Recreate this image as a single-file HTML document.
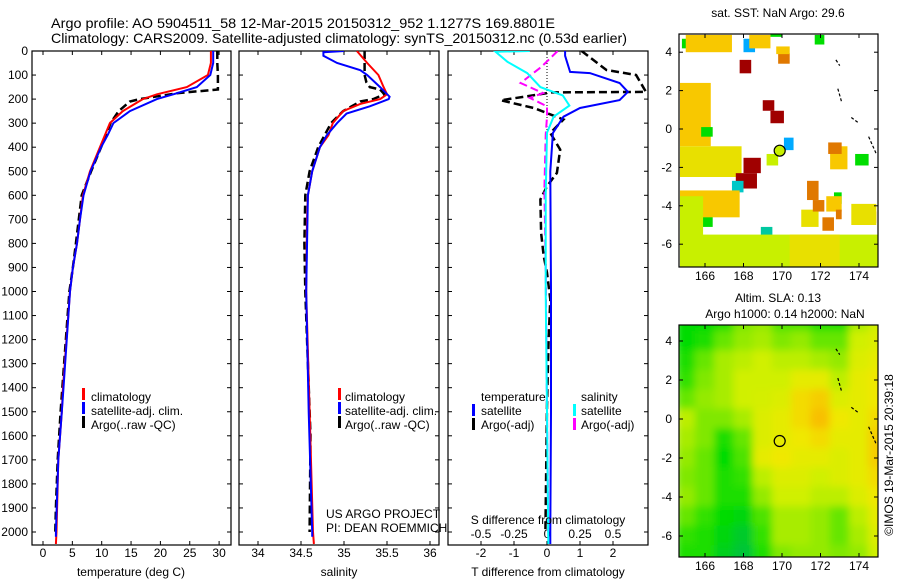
<!DOCTYPE html>
<html><head><meta charset="utf-8"><style>
html,body{margin:0;padding:0;background:#fff;}
svg{display:block;font-family:"Liberation Sans",Arial,sans-serif;}
</style></head><body>
<svg id="fig" width="900" height="580" viewBox="0 0 900 580" xmlns="http://www.w3.org/2000/svg">
<defs>
<clipPath id="c1"><rect x="32" y="51" width="199" height="494"/></clipPath>
<clipPath id="c2"><rect x="239" y="51" width="200" height="494"/></clipPath>
<clipPath id="c3"><rect x="448" y="51" width="200" height="494"/></clipPath>
<clipPath id="cm1"><rect x="679" y="34" width="199" height="233"/></clipPath>
<clipPath id="cm2"><rect x="679" y="325" width="199" height="232"/></clipPath>
<filter id="blur" x="-10%" y="-10%" width="120%" height="120%"><feGaussianBlur stdDeviation="4"/></filter>
</defs>
<text x="51" y="28" font-size="14" textLength="504" lengthAdjust="spacingAndGlyphs">Argo profile: AO 5904511_58 12-Mar-2015 20150312_952 1.1277S 169.8801E</text>
<text x="51" y="43" font-size="14" textLength="576" lengthAdjust="spacingAndGlyphs">Climatology: CARS2009. Satellite-adjusted climatology: synTS_20150312.nc (0.53d earlier)</text>
<g id="layer"></g>
</svg>
<script>
// ---------- data ----------
const depthTicks=[0,100,200,300,400,500,600,700,800,900,1000,1100,1200,1300,1400,1500,1600,1700,1800,1900,2000];
const tempTicks=[0,5,10,15,20,25,30];
const salTicks=[34,34.5,35,35.5,36];
const tdiffTicks=[-2,-1,0,1,2];
const sdiffTicks=[-0.5,-0.25,0,0.25,0.5];
const sdiffTickLabels=["-0.5","-0.25","0","0.25","0.5"];

const climTDepth=[0,50,100,150,180,200,250,300,400,500,600,700,800,900,1000,1400,1500,1700,2000,2050];
const climT=[28.6,28.6,28.1,24.5,19.4,17,13.6,11.4,9.7,8,6.8,6.3,5.8,5.1,4.6,3.4,3.2,2.6,2.3,2.2];
const satTDepth=[0,50,100,150,180,200,250,300,350,400,500,600,700,800,900,1000,1400,1500,1700,2000,2020];
const satT=[29,29,28.5,26.2,22.2,19.4,14.8,12,11,9.9,8.1,6.9,6.3,5.8,5.1,4.6,3.5,3.2,2.6,2.2,2.2];
const argoTDepth=[0,50,100,150,160,175,200,210,250,300,400,500,600,700,800,900,1000,1300,1500,1700,1900,2000];
const argoT=[29.7,29.7,29.8,29.8,29.8,23,16.5,14.8,12.9,11.5,9.9,8.2,6.6,6.1,5.6,5.1,4.5,3.6,3,2.5,2.2,2.1];

const climSDepth=[0,50,100,150,180,200,220,250,300,350,400,500,600,700,1000,1500,2000,2050];
const climS=[35.15,35.27,35.4,35.46,35.5,35.42,35.19,34.99,34.87,34.82,34.72,34.63,34.58,34.57,34.56,34.6,34.64,34.65];
const satSDepth=[0,5,20,50,80,100,150,190,200,230,260,300,350,400,500,600,1000,1500,2000,2020];
const satS=[35.0,34.76,34.76,34.92,35.19,35.27,35.42,35.53,35.52,35.3,35.03,34.92,34.8,34.72,34.63,34.58,34.56,34.59,34.63,34.63];
const argoSDepth=[0,50,100,130,150,160,180,200,210,250,300,400,500,600,800,1000,1300,1600,2000];
const argoS=[35.24,35.24,35.24,35.26,35.3,35.42,35.47,35.34,35.19,34.99,34.85,34.7,34.6,34.55,34.54,34.55,34.58,34.61,34.6];

const satTdDepth=[0,20,87,92,133,170,204,237,273,341,500,1000,1500,2000,2050];
const satTd=[0.55,0.55,0.7,1.3,2.2,2.45,2.2,1.0,0.5,0.18,0.1,0.12,0.12,0.1,0.1];
const argoTdDepth=[0,79,100,170,172,205,237,285,341,410,507,562,617,756,853,922,1033,1200,1475,2000];
const argoTd=[1.05,1.8,2.7,3.0,0.15,-1.4,-0.4,0.5,0.1,0.4,0.3,0.0,-0.2,-0.18,-0.1,0,0.1,0.05,0,-0.05];
const satSdDepth=[0,3,45,92,150,185,227,273,340,600,1000,1500,2050];
const satSd=[-0.13,-0.39,-0.3,-0.15,-0.05,0.12,0.17,0.05,0.0,-0.01,-0.01,0.0,0.01];
const argoSdDepth=[0,65,133,175,195,230,273,350,575,900,1500,2000];
const argoSd=[0.08,-0.04,-0.2,-0.03,-0.13,0,0,-0.01,-0.02,-0.01,0.0,0.01];

// SST patches: lon0,lon1,lat0,lat1 and sst colour class
const sstLon0=[164.7,164.7,164.7,165.8,167.8,169.0,169.4,168.0,167.6,170.1,168.0,167.4,168.9,171.7,164.8,173.8,165.8,172.7,172.1,169.4,169.8,169.7,172.5,171.3,174.3,165.0,168.3,169.2,172.4,164.7,171.0,172.3,173.6,164.7,170.4,164.7,171.6,172.8];
const sstLon1=[166.3,167.9,166.5,166.4,168.4,169.6,170.1,168.9,168.7,170.6,168.6,168.0,169.5,172.2,165.4,174.5,166.4,173.1,172.7,170.0,170.4,170.4,173.4,171.9,174.9,167.4,169.4,169.8,173.1,167.8,171.9,173.1,174.9,175.0,173.0,165.9,172.2,173.1];
const sstLat0=[2.4,-0.9,-1.2,0.1,3.6,1.5,0.95,-1.5,-2.3,-0.45,4.7,-2.7,-5.1,4.9,4.7,-1.3,-4.5,-3.3,-4.6,4.95,3.95,4.3,-0.9,-2.7,-4.3,4.9,4.9,-1.3,-0.7,-3.2,-4.2,-3.5,-3.9,-5.5,-5.5,-3.5,-3.7,-4.2];
const sstLat1=[-0.9,-2.5,-2.4,-0.4,2.9,0.95,0.3,-2.3,-3.1,-1.1,4.0,-3.3,-6.3,4.4,4.2,-1.9,-5.1,-3.9,-5.3,4.8,3.4,3.9,-2.1,-3.7,-4.9,4.0,4.2,-1.9,-1.3,-4.6,-5.1,-4.3,-5.0,-7.2,-7.2,-7.2,-4.3,-4.7];
const sstClass=[4,3,3,5,7,7,7,7,7,8,8,9,10,5,5,5,5,5,6,5,6,4,4,6,6,4,4,2,6,4,3,4,3,2,3,2,6,6];
const sstPalette=["#00c0c0","#60e000","#c8f000","#e8e000","#f8c800","#00dd00","#e07800","#a00000","#00aaff","#00c8c8","#00c8a0"];

// SLA grid: rows lat 5..-7, cols lon 165..175
const slaLats=[5,4,3,2,1,0,-1,-2,-3,-4,-5,-6,-7];
const slaLons=[165,166,167,168,169,170,171,172,173,174,175];
const slaGrid=[
[0.25,0.25,0.3,0.5,0.55,0.4,0.4,0.3,0.3,0.6,0.7],
[0.25,0.3,0.45,0.55,0.6,0.5,0.55,0.45,0.45,0.7,0.75],
[0.3,0.45,0.6,0.65,0.7,0.65,0.65,0.6,0.55,0.75,0.8],
[0.35,0.5,0.6,0.7,0.7,0.7,0.8,0.8,0.65,0.8,0.85],
[0.45,0.55,0.6,0.7,0.72,0.75,0.9,0.95,0.75,0.8,0.85],
[0.65,0.5,0.5,0.6,0.75,0.8,0.9,1.0,0.85,0.8,0.9],
[0.6,0.5,0.3,0.45,0.75,0.8,0.85,0.9,0.8,0.8,0.95],
[0.55,0.45,0.25,0.4,0.8,0.85,0.8,0.8,0.75,0.8,0.95],
[0.5,0.45,0.3,0.35,0.65,0.75,0.75,0.7,0.75,0.8,0.9],
[0.55,0.45,0.3,0.3,0.55,0.7,0.7,0.65,0.65,0.75,0.85],
[0.45,0.35,0.25,0.2,0.4,0.6,0.6,0.55,0.45,0.65,0.8],
[0.35,0.3,0.2,0.1,0.35,0.6,0.6,0.55,0.45,0.6,0.75],
[0.3,0.3,0.15,0.05,0.3,0.5,0.55,0.55,0.5,0.55,0.7]];
const mapLonTicks=[166,168,170,172,174];
const mapLatTicks=[4,2,0,-2,-4,-6];
const profileLon=[169.88], profileLat=[-1.13];

// ---------- helpers ----------
const NS="http://www.w3.org/2000/svg";
const layer=document.getElementById('layer');
function mk(tag,attrs,parent){const e=document.createElementNS(NS,tag);for(const k in attrs)e.setAttribute(k,attrs[k]);(parent||layer).appendChild(e);return e;}
const yD=d=>51+d*0.2405;
const xT=v=>43+v*5.87;
const xS=v=>258+(v-34)*86;
const xTd=v=>547+v*33;
const xSd=v=>547+v*132;
const mX=lon=>705+(lon-166)*19.25;
const m1Y=lat=>129-lat*19.2;
const m2Y=lat=>419-lat*19.5;

function frame(x,y,w,h,name){
  const r=mk('rect',{x:x,y:y,width:w,height:h,fill:'none',stroke:'#000','stroke-width':1.2});
  
  
}
function line(depths,vals,xf,color,dash,clip,name,w){
  let d='';depths.forEach((dp,i)=>{d+=(i?'L':'M')+xf(vals[i]).toFixed(1)+','+yD(dp).toFixed(1);});
  const p=mk('path',{d:d,fill:'none',stroke:color,'stroke-width':w||2,'stroke-dasharray':dash||'none','clip-path':'url(#'+clip+')'});
  
  
}
function txt(x,y,s,size,anchor,name,extra){
  const t=mk('text',Object.assign({x:x,y:y,'font-size':size||12,'text-anchor':anchor||'start'},extra||{}));
  t.textContent=s;
  
  
  return t;
}
function vtick(x,top,bot){mk('line',{x1:x,y1:bot,x2:x,y2:bot-4,stroke:'#000'});mk('line',{x1:x,y1:top,x2:x,y2:top+4,stroke:'#000'});}
function htick(y,l,r){mk('line',{x1:l,y1:y,x2:l+4,y2:y,stroke:'#000'});mk('line',{x1:r,y1:y,x2:r-4,y2:y,stroke:'#000'});}
function legBar(x,y,color,name){const b=mk('rect',{x:x,y:y-10,width:3,height:12,fill:color});}

// ---------- panel 1: temperature ----------
frame(32,51,199,494,'temperature-panel-frame');
depthTicks.forEach(d=>{htick(yD(d),32,231);htick(yD(d),239,439);htick(yD(d),448,648);
  txt(28,yD(d)+4,String(d),12,'end','depth-tick-label');});
tempTicks.forEach(v=>{vtick(xT(v),51,545);txt(xT(v),557,String(v),12,'middle','temperature-tick-label');});
txt(131,576,'temperature (deg C)',12,'middle','temperature-axis-title');
line(argoTDepth,argoT,xT,'#000','8,4','c1','argo-temperature-line',2.5);
line(climTDepth,climT,xT,'#f00',null,'c1','climatology-temperature-line');
line(satTDepth,satT,xT,'#00f',null,'c1','satellite-temperature-line');
legBar(82,398,'#f00','legend-climatology-swatch');txt(91,401,'climatology',12,'start','legend-climatology');
legBar(82,412,'#00f','legend-satellite-swatch');txt(91,415,'satellite-adj. clim.',12,'start','legend-satellite-adj');
legBar(82,426,'#000','legend-argo-swatch');txt(91,429,'Argo(..raw -QC)',12,'start','legend-argo-raw');

// ---------- panel 2: salinity ----------
frame(239,51,200,494,'salinity-panel-frame');
salTicks.forEach(v=>{vtick(xS(v),51,545);txt(xS(v),557,String(v),12,'middle','salinity-tick-label');});
txt(339,576,'salinity',12,'middle','salinity-axis-title');
line(argoSDepth,argoS,xS,'#000','8,4','c2','argo-salinity-line',2.5);
line(climSDepth,climS,xS,'#f00',null,'c2','climatology-salinity-line');
line(satSDepth,satS,xS,'#00f',null,'c2','satellite-salinity-line');
legBar(338,398,'#f00','legend-climatology-swatch-2');txt(345,401,'climatology',12,'start','legend-climatology-2');
legBar(338,412,'#00f','legend-satellite-swatch-2');txt(345,415,'satellite-adj. clim.',12,'start','legend-satellite-adj-2');
legBar(338,426,'#000','legend-argo-swatch-2');txt(345,429,'Argo(..raw -QC)',12,'start','legend-argo-raw-2');
txt(326,518,'US ARGO PROJECT',12,'start','us-argo-project-label');
txt(326,532,'PI: DEAN ROEMMICH',12,'start','pi-label');

// ---------- panel 3: differences ----------
frame(448,51,200,494,'difference-panel-frame');
mk('line',{x1:547,y1:51,x2:547,y2:yD(330),stroke:'#000','stroke-dasharray':'1,2'});
tdiffTicks.forEach(v=>{vtick(xTd(v),51,545);txt(xTd(v),557,String(v),12,'middle','tdiff-tick-label');});
sdiffTicks.forEach((v,i)=>{mk('line',{x1:xSd(v),y1:545,x2:xSd(v),y2:541,stroke:'#000'});txt(xSd(v),538,sdiffTickLabels[i],12,'middle','sdiff-tick-label');});
txt(548,576,'T difference from climatology',12,'middle','tdiff-axis-title');
line(argoTdDepth,argoTd,xTd,'#000','8,4','c3','argo-tdiff-line',2.5);
line(argoSdDepth,argoSd,xSd,'#f0f','8,4','c3','argo-sdiff-line',2);
line(satTdDepth,satTd,xTd,'#00f',null,'c3','satellite-tdiff-line');
line(satSdDepth,satSd,xSd,'#0ff',null,'c3','satellite-sdiff-line');
txt(548,524,'S difference from climatology',12,'middle','sdiff-axis-title');
txt(481,401,'temperature',12,'start','legend-temperature-heading');
txt(581,401,'salinity',12,'start','legend-salinity-heading');
legBar(472,414,'#00f','legend-t-satellite-swatch');txt(481,415,'satellite',12,'start','legend-t-satellite');
legBar(472,428,'#000','legend-t-argo-swatch');txt(481,429,'Argo(-adj)',12,'start','legend-t-argo');
legBar(573,414,'#0ff','legend-s-satellite-swatch');txt(581,415,'satellite',12,'start','legend-s-satellite');
legBar(573,428,'#f0f','legend-s-argo-swatch');txt(581,429,'Argo(-adj)',12,'start','legend-s-argo');

// ---------- map 1: SST ----------
const g1=mk('g',{'clip-path':'url(#cm1)'});


sstLon0.forEach((l0,i)=>{
  const r=mk('rect',{x:mX(l0),y:m1Y(sstLat0[i]),width:mX(sstLon1[i])-mX(l0),height:m1Y(sstLat1[i])-m1Y(sstLat0[i]),fill:sstPalette[sstClass[i]]},g1);
  
  
});
frame(679,34,199,233,'sst-map-frame');
txt(778,17,'sat. SST: NaN Argo: 29.6',12,'middle','sst-map-title');

// ---------- map 2: SLA ----------
const slaStops=[[0,[0,190,70]],[0.25,[0,220,0]],[0.5,[128,232,0]],[0.7,[208,240,0]],[0.85,[240,232,0]],[1,[248,192,0]]];
function slaColor(v){for(let i=1;i<slaStops.length;i++){if(v<=slaStops[i][0]){const a=slaStops[i-1],b=slaStops[i],t=(v-a[0])/(b[0]-a[0]);return 'rgb('+a[1].map((c,k)=>Math.round(c+(b[1][k]-c)*t)).join(',')+')';}}return 'rgb(248,192,0)';}
const g2=mk('g',{'clip-path':'url(#cm2)'});


const g2b=mk('g',{filter:'url(#blur)'},g2);
slaLats.forEach((lat,ri)=>slaLons.forEach((lon,ci)=>{
  const r=mk('rect',{x:mX(lon-0.5)-0.5,y:m2Y(lat+0.5)-0.5,width:20.3,height:20.5,fill:slaColor(slaGrid[ri][ci])},g2b);
  
  
}));
frame(679,325,199,232,'sla-map-frame');
txt(778,302,'Altim. SLA: 0.13',12,'middle','sla-map-title');
txt(785,318,'Argo h1000: 0.14 h2000: NaN',12,'middle','sla-map-subtitle');

// map axes
[[m1Y,34,267],[m2Y,325,557]].forEach(([yf,top,bot],mi)=>{
  mapLonTicks.forEach(lon=>{vtick(mX(lon),top,bot);txt(mX(lon),bot+13,String(lon),12,'middle','map-lon-tick-label');});
  mapLatTicks.forEach(lat=>{htick(yf(lat),679,878);txt(672,yf(lat)+4,String(lat),12,'end','map-lat-tick-label');});
  const c=mk('circle',{cx:mX(profileLon[0]),cy:yf(profileLat[0]),r:5.5,fill:mi?'none':'#c8f000',stroke:'#000','stroke-width':1.2});
  
  
  const coast=[[172.8,3.6,173.0,3.3],[172.9,2.1,173.1,1.4],[173.6,0.6,174.0,0.3],[174.5,-0.4,174.9,-1.3]];
  coast.forEach(cc=>{const p=mk('path',{d:'M'+mX(cc[0])+','+yf(cc[1])+'L'+mX(cc[2])+','+yf(cc[3]),stroke:'#000','stroke-width':1.2,fill:'none','stroke-dasharray':'3,2'});
    });
});
txt(0,0,'\u00a9IMOS 19-Mar-2015 20:39:18',12,'middle','imos-timestamp',{transform:'translate(893,455) rotate(-90)'});
</script>
</body></html>
